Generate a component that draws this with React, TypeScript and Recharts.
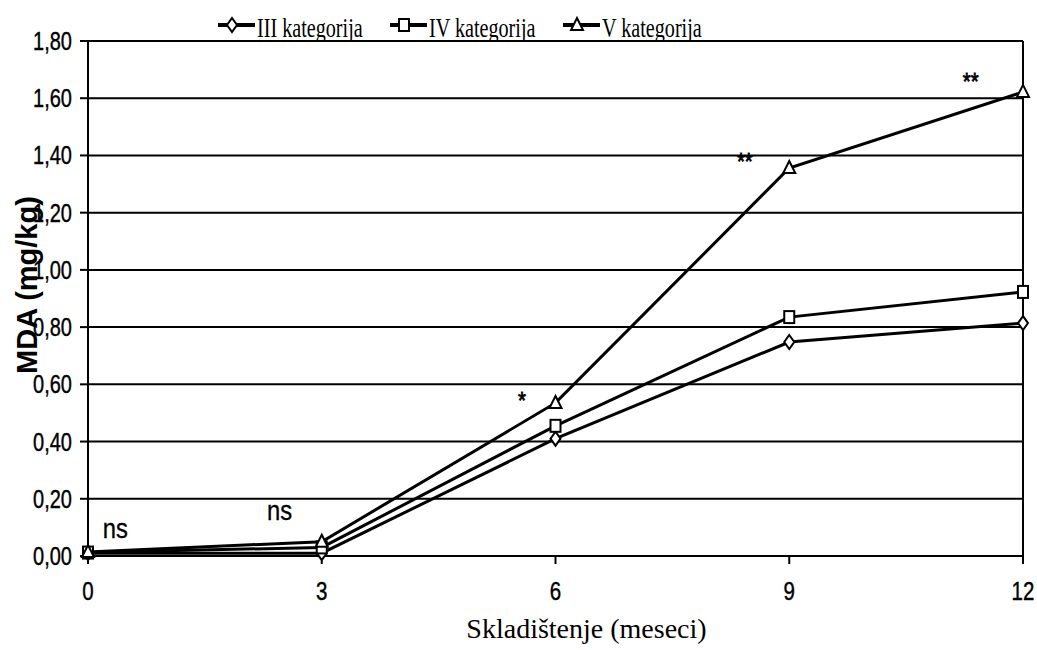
import React from 'react';
import { LineChart, Line, XAxis, YAxis, CartesianGrid, ReferenceLine, ReferenceDot } from 'recharts';

const months = [0, 3, 6, 9, 12];
const catIII = [0.01, 0.01, 0.41, 0.748, 0.814];
const catIV = [0.012, 0.03, 0.455, 0.835, 0.923];
const catV = [0.014, 0.05, 0.535, 1.356, 1.622];
const seriesNames = ['III kategorija', 'IV kategorija', 'V kategorija'];
const xTicks = [0, 3, 6, 9, 12];
const yTicks = [0, 0.2, 0.4, 0.6, 0.8, 1.0, 1.2, 1.4, 1.6, 1.8];
const annotationText = ['ns', 'ns', '*', '**', '**'];
const annotationX = [0.35, 2.46, 5.57, 8.43, 11.33];
const annotationY = [0.09, 0.154, 0.56, 1.395, 1.674];

const data = months.map((m, i) => ({ m, III: catIII[i], IV: catIV[i], V: catV[i] }));
const keys = ['III', 'IV', 'V'];

const shapeFor = (kind: string, cx: number, cy: number, key?: any) => {
  const common = { fill: '#fff', stroke: '#000', strokeWidth: 2 };
  if (kind === 'III') {
    return <polygon key={key} points={`${cx},${cy - 7} ${cx + 5},${cy} ${cx},${cy + 7} ${cx - 5},${cy}`} {...common} />;
  }
  if (kind === 'IV') {
    return <rect key={key} x={cx - 5} y={cy - 6} width={10} height={12} {...common} />;
  }
  return <polygon key={key} points={`${cx},${cy - 7} ${cx + 6},${cy + 5} ${cx - 6},${cy + 5}`} {...common} />;
};

const makeDot = (kind: string) => (props: any) => {
  const { cx, cy, index } = props;
  if (cx == null || cy == null) return <g key={`d-${kind}-${index}`} />;
  return shapeFor(kind, cx, cy, `d-${kind}-${index}`);
};

const XTick = (props: any) => {
  const { x, y, payload } = props;
  return (
    <g transform={`translate(${x},${y}) scale(0.82,1)`}>
      <text x={0} y={34} textAnchor="middle" fontFamily="Liberation Sans, Arial, sans-serif" fontSize={25} fill="#000" stroke="#000" strokeWidth={0.4}>
        {String(payload.value)}
      </text>
    </g>
  );
};

const YTick = (props: any) => {
  const { x, y, payload } = props;
  return (
    <g transform={`translate(${x - 6},${y}) scale(0.8,1)`}>
      <text x={0} y={9} textAnchor="end" fontFamily="Liberation Sans, Arial, sans-serif" fontSize={25} fill="#000" stroke="#000" strokeWidth={0.4}>
        {Number(payload.value).toFixed(2).replace('.', ',')}
      </text>
    </g>
  );
};

const YLabel = () => (
  <text
    x={37}
    y={285}
    transform="rotate(-90, 37, 285)"
    textAnchor="middle"
    fontFamily="Liberation Sans, Arial, sans-serif"
    fontWeight="bold"
    fontSize={29}
    fill="#000"
  >
    MDA (mg/kg)
  </text>
);

const XLabel = (p: any) => {
  const vb = p.viewBox || {};
  const cx = (vb.x ?? 0) + (vb.width ?? 0) / 2 + 31;
  const by = (vb.y ?? 0) + (vb.height ?? 0) - 8;
  return (
    <text x={cx} y={by} textAnchor="middle" fontFamily="Liberation Serif, Times New Roman, serif" fontSize={28} fill="#000">
      Skladištenje (meseci)
    </text>
  );
};

const legendLineX = [218, 390, 563];

export default function App() {
  return (
    <div style={{ position: 'absolute', left: 0, top: 0, width: 1037, height: 650, background: '#fff' }}>
      <LineChart width={1037} height={650} data={data} margin={{ top: 41, right: 14, bottom: 4, left: 28 }}>
        <CartesianGrid vertical={false} stroke="#000" strokeWidth={2} />
        <XAxis
          dataKey="m"
          type="number"
          domain={[0, 12]}
          ticks={xTicks}
          height={90}
          tickSize={8}
          stroke="#000"
          strokeWidth={2}
          tick={<XTick />}
          label={{ content: XLabel }}
        />
        <YAxis
          type="number"
          domain={[0, 1.8]}
          ticks={yTicks}
          width={60}
          tickSize={8}
          stroke="#000"
          strokeWidth={2}
          tick={<YTick />}
          label={<YLabel />}
        />
        <ReferenceLine x={12} stroke="#000" strokeWidth={2} />
        {keys.map((k, i) => (
          <Line
            key={k}
            type="linear"
            dataKey={k}
            name={seriesNames[i]}
            stroke="#000"
            strokeWidth={3}
            dot={makeDot(k)}
            isAnimationActive={false}
          />
        ))}
        {annotationText.map((t, i) => (
          <ReferenceDot
            key={`a-${i}`}
            x={annotationX[i]}
            y={annotationY[i]}
            r={0}
            fill="none"
            stroke="none"
            label={{
              content: (p: any) => {
                const vb = p.viewBox || {};
                const cx = (vb.x ?? 0) + (vb.width ?? 0) / 2;
                const cy = (vb.y ?? 0) + (vb.height ?? 0) / 2;
                const star = t.startsWith('*');
                return (
                  <g transform={`translate(${cx},${cy}) scale(0.85,1)`}>
                    <text x={0} y={star ? 13 : 8} textAnchor="middle" fontFamily="Liberation Sans, Arial, sans-serif" fontSize={star ? 24 : 28} fill="#000" stroke="#000" strokeWidth={star ? 0.8 : 0.3}>
                      {t}
                    </text>
                  </g>
                );
              },
            }}
          />
        ))}
      </LineChart>
      <svg width={1037} height={42} style={{ position: 'absolute', left: 0, top: 0 }}>
        {seriesNames.map((n, i) => {
          const lx = legendLineX[i];
          return (
            <g key={n}>
              <line x1={lx} x2={lx + 37} y1={25} y2={25} stroke="#000" strokeWidth={4} />
              {shapeFor(keys[i], lx + 14, 25)}
              <g transform={`translate(${lx + 39},37) scale(0.72,1)`}>
                <text x={0} y={0} fontFamily="Liberation Serif, Times New Roman, serif" fontSize={28} fill="#000">
                  {n}
                </text>
              </g>
            </g>
          );
        })}
      </svg>
    </div>
  );
}
